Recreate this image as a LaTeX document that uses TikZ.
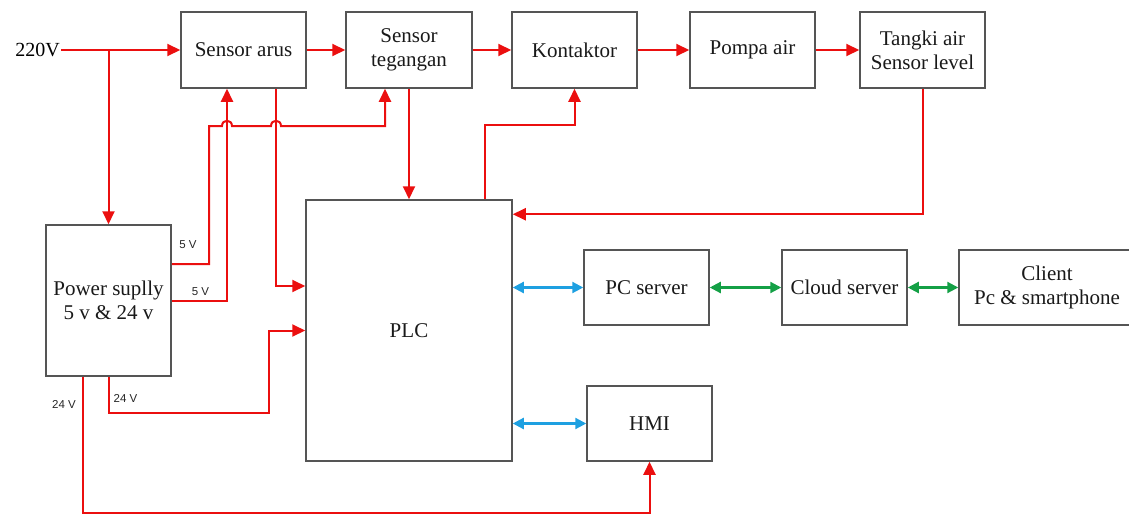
\documentclass[tikz,border=0pt]{standalone}
\usepackage{fontspec}
\setmainfont{Liberation Serif}
\newfontfamily\labfont{Liberation Sans}
\usetikzlibrary{arrows.meta}
\definecolor{wred}{RGB}{235,15,15}
\definecolor{wblue}{RGB}{30,160,225}
\definecolor{wgreen}{RGB}{20,160,70}
\definecolor{bordergray}{RGB}{85,85,85}
\tikzset{
  blk/.style={draw=bordergray, line width=1.5pt, rectangle, align=center, inner sep=0pt,
              font=\fontsize{21}{24}\selectfont, text=black!90},
  wire/.style={draw=wred, line width=2pt},
  redarr/.style={wire, -{Triangle[length=13pt,width=12pt]}},
  bluearr/.style={draw=wblue, line width=2.2pt, {Triangle[length=11pt,width=11pt]}-{Triangle[length=11pt,width=11pt]}},
  greenarr/.style={draw=wgreen, line width=2.2pt, {Triangle[length=11pt,width=11pt]}-{Triangle[length=11pt,width=11pt]}},
  vlab/.style={font=\labfont\fontsize{11.5}{13}\selectfont, text=black!85, inner sep=0pt}
}
\begin{document}
\begin{tikzpicture}[x=1pt,y=-1pt]
\useasboundingbox (0,0) rectangle (1129,514);
% blocks
\node[blk, minimum width=125pt, minimum height=76pt] (sa) at (243.5,50) {Sensor arus};
\node[blk, minimum width=126pt, minimum height=76pt] (st) at (409,50) {Sensor\\tegangan};
\node[blk, minimum width=125pt, minimum height=76pt] (ko) at (574.5,50) {Kontaktor};
\node[blk, minimum width=125pt, minimum height=76pt] (pa) at (752.5,50) {Pompa air};
\node[blk, minimum width=125pt, minimum height=76pt] (ta) at (922.5,50) {Tangki air\\Sensor level};
\node[blk, minimum width=125pt, minimum height=151pt] (ps) at (108.5,300.5) {Power suplly\\5 v \& 24 v};
\node[blk, minimum width=206pt, minimum height=261pt] (plc) at (409,330.5) {PLC};
\node[blk, minimum width=125pt, minimum height=75pt] (pcs) at (646.5,287.5) {PC server};
\node[blk, minimum width=125pt, minimum height=75pt] (cs) at (844.5,287.5) {Cloud server};
\node[blk, minimum width=176pt, minimum height=75pt] (cl) at (1047,287.5) {Client\\Pc \& smartphone};
\node[blk, minimum width=125pt, minimum height=75pt] (hmi) at (649.5,423.5) {HMI};
% input label
\node[font=\fontsize{20}{24}\selectfont, inner sep=0pt, anchor=east] (v220) at (60,50) {220V};
\coordinate (j1) at (108.5,50);
% main power chain
\draw[redarr] (v220.east) ++(1,0) -- (sa.west);
\draw[redarr] (j1) -- (ps.north);
\draw[redarr] (sa.east) -- (st.west);
\draw[redarr] (st.east) -- (ko.west);
\draw[redarr] (ko.east) -- (pa.west);
\draw[redarr] (pa.east) -- (ta.west);
% feedback and control
\draw[redarr] (ta.south) |- ([yshift=-15pt]plc.north east);
\draw[redarr] ([xshift=-28pt]plc.north east) -- ++(0,-74) -| (ko.south);
\draw[redarr] (st.south) -- (plc.north);
\draw[redarr] ([xshift=32.5pt]sa.south) |- ([yshift=44.5pt]plc.west);
% 5 V supplies
\draw[redarr] ([yshift=36.5pt]ps.east) -| (209,126) -- (222,126)
   .. controls (222,119) and (232,119) .. (232,126) -- (271,126)
   .. controls (271,119) and (281,119) .. (281,126) -| ([xshift=-24pt]st.south);
\draw[redarr] (ps.east) -| ([xshift=-16.5pt]sa.south);
% 24 V supplies
\draw[redarr] (ps.south) |- (269,413) |- (plc.west);
\draw[redarr] ([xshift=-25.5pt]ps.south) -- ++(0,136) -| (hmi.south);
% data links
\draw[bluearr] (plc.east |- pcs.west) -- (pcs.west);
\draw[bluearr] (plc.east |- hmi.west) -- (hmi.west);
\draw[greenarr] (pcs.east) -- (cs.west);
\draw[greenarr] (cs.east) -- (cl.west);
% voltage labels
\node[vlab] (l5a) at (188,245) {5 V};
\node[vlab] (l5b) at (200.5,292) {5 V};
\node[vlab] (l24a) at (125.5,398) {24 V};
\node[vlab] (l24b) at (64,404.5) {24 V};
\end{tikzpicture}
\end{document}
